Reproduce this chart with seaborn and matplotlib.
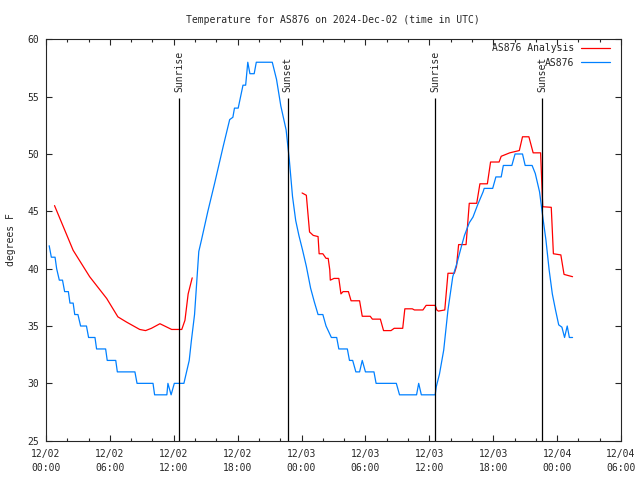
import matplotlib
matplotlib.use("Agg")
import matplotlib.pyplot as plt
from matplotlib.lines import Line2D
import numpy as np
import pandas as pd
import seaborn as sns

# hours since 2024-12-02 00:00 UTC
obs_hours = [0.3, 0.5, 0.85, 1.0, 1.25, 1.55, 1.75, 2.1, 2.25, 2.55, 2.7, 3.0, 3.25, 3.8, 4.0,
             4.6, 4.75, 5.6, 5.75, 6.55, 6.7, 8.35, 8.55, 10.05, 10.2, 11.35, 11.45, 11.75,
             12.05, 12.95, 13.2, 13.45, 13.65, 13.95, 14.35, 14.6, 15.2, 15.85, 16.65, 17.25,
             17.55, 17.7, 18.05, 18.5, 18.75, 18.95, 19.15, 19.55, 19.75, 21.25, 21.65, 22.05,
             22.55, 22.85, 23.15, 23.45, 23.75, 24.1, 24.45, 24.85, 25.2, 25.55, 26.0, 26.3,
             26.8, 27.3, 27.5, 28.3, 28.5, 28.8, 29.1, 29.45, 29.7, 30.0, 30.8, 31.0, 32.9,
             33.2, 34.8, 35.0, 35.25, 36.55, 36.65, 36.95, 37.35, 37.75, 38.2, 38.6, 39.0,
             39.3, 39.75, 40.1, 40.55, 41.05, 41.15, 41.95, 42.25, 42.75, 42.95, 43.75, 44.05,
             44.75, 45.0, 45.65, 45.95, 46.35, 46.7, 46.95, 47.25, 47.55, 47.85, 48.15, 48.45,
             48.7, 48.95, 49.15, 49.45]
obs_temps = [42, 41, 41, 40, 39, 39, 38, 38, 37, 37, 36, 36, 35, 35, 34,
             34, 33, 33, 32, 32, 31, 31, 30, 30, 29, 29, 30, 29,
             30, 30, 31, 32, 33.7, 36, 41.5, 42.5, 45, 47.5, 50.7, 53,
             53.2, 54, 54, 56, 56, 58, 57, 57, 58, 58, 56.5, 54.2,
             52.1, 49.5, 46.3, 44.2, 42.9, 41.6, 40.2, 38.3, 37.1, 36, 36, 35,
             34, 34, 33, 33, 32, 32, 31, 31, 32, 31, 31, 30, 30,
             29, 29, 30, 29, 29, 29.7, 30.8, 32.9, 36.4, 39.3, 40.5, 41.9,
             42.9, 44, 44.5, 45.6, 46.7, 47, 47, 48, 48, 49, 49, 50,
             50, 49, 49, 48.3, 46.7, 44.2, 42.5, 39.9, 37.8, 36.4, 35.1, 34.9,
             34, 35, 34, 34]

ana1_hours = [0.8, 2.55, 4.1, 5.7, 6.75, 7.55, 8.8, 9.35, 9.9, 10.7, 11.8, 12.75, 13.05, 13.35, 13.73]
ana1_temps = [45.5, 41.6, 39.3, 37.4, 35.8, 35.35, 34.7, 34.6, 34.8, 35.2, 34.7, 34.7, 35.5, 37.8, 39.2]

ana2_hours = [24.05, 24.45, 24.6, 24.75, 25.1, 25.55, 25.65, 26.0, 26.3, 26.5, 26.65, 26.7, 27.05,
              27.5, 27.7, 27.9, 28.4, 28.65, 29.45, 29.7, 30.45, 30.65, 31.4, 31.7, 32.4, 32.7,
              33.5, 33.7, 34.4, 34.6, 35.4, 35.7, 36.55, 36.7, 36.85, 37.45, 37.6, 37.75, 38.35,
              38.55, 38.75, 39.45, 39.75, 40.45, 40.75, 41.45, 41.75, 42.55, 42.75, 43.55, 44.45,
              44.75, 45.35, 45.75, 46.45, 46.65, 47.45, 47.65, 48.35, 48.65, 49.45]
ana2_temps = [46.6, 46.4, 44.8, 43.2, 42.9, 42.8, 41.3, 41.3, 40.9, 40.9, 39.9, 39.0, 39.15,
              39.15, 37.8, 38.0, 38.0, 37.2, 37.2, 35.85, 35.85, 35.6, 35.6, 34.6, 34.6, 34.8,
              34.8, 36.5, 36.5, 36.4, 36.4, 36.8, 36.8, 36.4, 36.3, 36.4, 38, 39.6, 39.6,
              40.2, 42.1, 42.1, 45.7, 45.7, 47.4, 47.4, 49.3, 49.3, 49.8, 50.1, 50.3,
              51.5, 51.5, 50.1, 50.1, 45.4, 45.35, 41.3, 41.2, 39.5, 39.3]

sun_hours = [12.52, 22.68, 36.57, 46.6]
sun_labels = ["Sunrise", "Sunset", "Sunrise", "Sunset"]

tick_hours = [0, 6, 12, 18, 24, 30, 36, 42, 48, 54]
tick_labels = ["12/02\n00:00", "12/02\n06:00", "12/02\n12:00", "12/02\n18:00", "12/03\n00:00",
               "12/03\n06:00", "12/03\n12:00", "12/03\n18:00", "12/04\n00:00", "12/04\n06:00"]

RED = "#ff0000"
BLUE = "#0080ff"

sns.set_style("ticks")
plt.rcParams["font.family"] = ["DejaVu Sans Mono"]
plt.rcParams.update({"font.size": 7, "axes.linewidth": 0.8})

obs_df = pd.DataFrame({"hour": obs_hours, "temp": obs_temps})
ana_df = pd.DataFrame({
    "hour": ana1_hours + ana2_hours,
    "temp": ana1_temps + ana2_temps,
    "seg": [0] * len(ana1_hours) + [1] * len(ana2_hours),
})

fig = plt.figure(figsize=(6.4, 4.8), dpi=100)
ax = fig.add_axes([46 / 640, 1 - 440.7 / 480, 575 / 640, 401.4 / 480])

sns.lineplot(data=ana_df, x="hour", y="temp", units="seg", estimator=None, color=RED,
             lw=0.9, ax=ax, legend=False)
sns.lineplot(data=obs_df, x="hour", y="temp", color=BLUE, lw=0.9, ax=ax, legend=False,
             estimator=None)

ax.vlines(sun_hours, 25, 54.9, color="black", lw=0.9)
for h, lab in zip(sun_hours, sun_labels):
    ax.text(h, 55.4, lab, rotation=90, ha="center", va="bottom", fontsize=7)

ax.set_xlim(0, 54)
ax.set_ylim(25, 60)
ax.set_xticks(tick_hours)
ax.set_xticklabels(tick_labels, linespacing=1.55)
ax.set_xticks(np.arange(0, 55, 2), minor=True)
ax.set_yticks(np.arange(25, 61, 5))
ax.tick_params(which="both", direction="in", top=True, right=True, width=0.8, labelsize=7)
ax.tick_params(which="major", length=4, pad=5)
ax.tick_params(axis="x", which="major", pad=6)
ax.tick_params(which="minor", length=2.5)
for s in ax.spines.values():
    s.set_visible(True)

ax.set_xlabel("")
ax.set_ylabel("degrees F", fontsize=7)
ax.yaxis.set_label_coords(-30 / 575, 0.5)

handles = [Line2D([], [], color=RED, lw=0.9), Line2D([], [], color=BLUE, lw=0.9)]
ax.legend(handles, ["AS876 Analysis", "AS876"], loc="upper right", bbox_to_anchor=(0.981, 0.99),
          markerfirst=False, frameon=False, handlelength=3.0, handletextpad=0.7,
          labelspacing=0.45, borderpad=0, borderaxespad=0, fontsize=7)

fig.text(333 / 640, 1 - 20 / 480, "Temperature for AS876 on 2024-Dec-02 (time in UTC)",
         ha="center", va="center", fontsize=7)

fig.savefig("out.png", dpi=100)
